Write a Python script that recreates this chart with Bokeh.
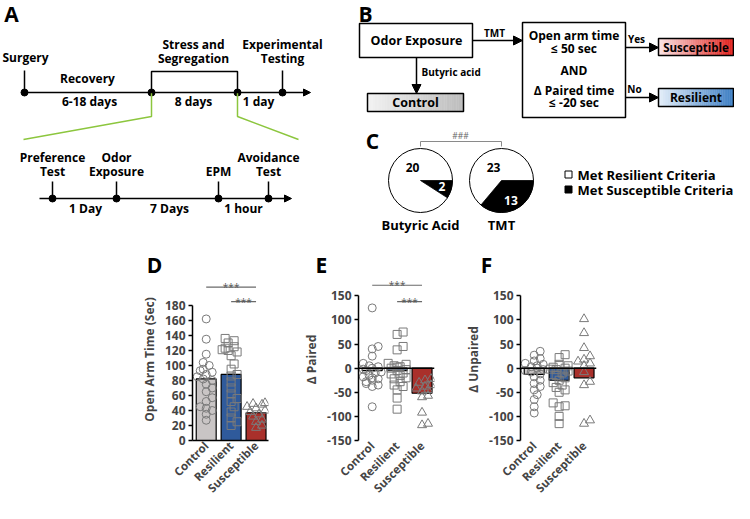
import math
from bokeh.plotting import figure
from bokeh.layouts import column, row
from bokeh.models import Range1d, Arrow, NormalHead, FixedTicker, Span
from bokeh.core.properties import value
from bokeh.embed import file_html
from bokeh.resources import INLINE

FONT = "Open Sans"

# ---------------- data ----------------
groups = ["Control", "Resilient", "Susceptible"]
bar_colors = ["#c9c5c5", "#2f5a9b", "#a9302b"]
markers = ["circle", "square", "triangle"]

open_arm_control = [162, 135, 115, 104, 100, 95, 93, 91, 88, 85, 82, 80, 75, 70, 65, 57, 52, 45, 43, 40, 35, 27]
open_arm_resilient = [136, 133, 130, 125, 123, 121, 120, 118, 113, 102, 95, 88, 86, 78, 70, 62, 56, 52, 45, 38, 30, 25, 20]
open_arm_susceptible = [50, 49, 48, 45, 43, 40, 38, 35, 32, 28, 25, 20, 17]
open_arm_means = [82, 88, 37]

paired_control = [125, 45, 40, 25, 10, 5, 3, 0, -2, -5, -8, -10, -15, -18, -20, -22, -25, -28, -32, -35, -38, -80]
paired_resilient = [75, 70, 45, 38, 10, 8, 5, 3, 2, 0, -3, -5, -10, -12, -15, -20, -22, -28, -35, -38, -45, -62, -85]
paired_susceptible = [-22, -25, -30, -35, -38, -42, -45, -48, -57, -60, -92, -115, -118]
paired_means = [-5, -5, -52]

unpaired_control = [35, 27, 20, 15, 10, 8, 5, 3, 0, -3, -5, -8, -12, -18, -25, -32, -38, -45, -55, -65, -80, -93]
unpaired_resilient = [28, 22, 8, 5, 2, 0, -2, -3, -6, -10, -15, -20, -25, -30, -35, -40, -45, -50, -72, -78, -80, -100, -115]
unpaired_susceptible = [102, 73, 42, 25, 18, 14, 10, 5, -8, -28, -35, -108, -115]
unpaired_means = [-13, -25, -20]

open_arm_ticks = [0, 20, 40, 60, 80, 100, 120, 140, 160, 180]
delta_ticks = [-150, -100, -50, 0, 50, 100, 150]

pie_labels = ["Butyric Acid", "TMT"]
pie_resilient = [20, 23]
pie_susceptible = [2, 13]
legend_labels = ["Met Resilient Criteria", "Met Susceptible Criteria"]

upper_events = [["Surgery"], ["Stress and", "Segregation"], ["Experimental", "Testing"]]
upper_intervals = ["Recovery", "6-18 days", "8 days", "1 day"]
lower_events = [["Preference", "Test"], ["Odor", "Exposure"], ["EPM"], ["Avoidance", "Test"]]
lower_intervals = ["1 Day", "7 Days", "1 hour"]

# ---------------- top canvas (panels A, B, C) ----------------
H = 519
TOP_H = 278
def Y(y):
    return H - y

top = figure(width=734, height=TOP_H, x_range=Range1d(0, 734), y_range=Range1d(H - TOP_H, H),
             min_border=0, x_axis_type=None, y_axis_type=None,
             output_backend="svg", toolbar_location=None)
top.outline_line_color = None


def T(x, y, s, size=12, align="center", color="black", style="bold", baseline="middle"):
    top.text(x=[x], y=[Y(y)], text=[s], text_font=value(FONT), text_font_size=f"{size}px",
             text_font_style=style, text_align=align, text_baseline=baseline, text_color=color)


def L(xs, ys, color="black", w=1.5):
    top.line(x=xs, y=[Y(v) for v in ys], line_color=color, line_width=w)


def ARROW(x0, y0, x1, y1, size=8):
    top.add_layout(Arrow(end=NormalHead(size=size, fill_color="black", line_color="black", line_width=1),
                         x_start=x0, y_start=Y(y0), x_end=x1, y_end=Y(y1),
                         line_width=1.5, line_color="black"))


def grad_box(x0, x1, yt, yb, c0, c1, n=40):
    def hx(c):
        return [int(c[i:i + 2], 16) for i in (1, 3, 5)]
    a, b = hx(c0), hx(c1)
    w = (x1 - x0) / n
    lefts, rights, cols = [], [], []
    for k in range(n):
        t = k / (n - 1)
        col = "#%02x%02x%02x" % tuple(int(round(a[i] + (b[i] - a[i]) * t)) for i in range(3))
        lefts.append(x0 + k * w)
        rights.append(x0 + (k + 1) * w)
        cols.append(col)
    top.quad(left=lefts, right=rights, top=[Y(yt)] * n, bottom=[Y(yb)] * n,
             fill_color=cols, line_color=cols, line_width=0.5)
    top.quad(left=[x0], right=[x1], top=[Y(yt)], bottom=[Y(yb)], fill_color=None,
             line_color="black", line_width=1.5)


# panel letters
T(11, 13, "A", 21)
T(365, 13, "B", 21)
T(372, 140, "C", 21)
T(154, 264, "D", 21)
T(321, 264, "E", 21)
T(486, 264, "F", 21)

# --- Panel A upper timeline
ARROW(23, 92, 310, 92, 7)
L([24, 24], [92, 70])
L([282, 282], [92, 70])
L([151, 151, 237, 237], [92, 71, 71, 92])
top.scatter(x=[24, 151, 237, 282], y=[Y(92)] * 4, size=7, fill_color="black", line_color="black")
L([151, 151, 23], [92, 116, 139], color="#8cc63e")
L([237, 237, 298], [92, 116, 139], color="#8cc63e")

ev_x = [25, 193, 282]
for ex, lines in zip(ev_x, upper_events):
    if len(lines) == 1:
        T(ex, 57, lines[0])
    else:
        T(ex, 44, lines[0])
        T(ex, 58, lines[1])
T(87, 78, upper_intervals[0])
for ix, s in zip([89, 193, 258], upper_intervals[1:]):
    T(ix, 101, s)

# --- Panel A lower timeline
ARROW(39, 198, 291, 198, 7)
low_x = [52, 116, 218, 268]
for lx in low_x:
    L([lx, lx], [198, 181])
top.scatter(x=low_x, y=[Y(198)] * 4, size=7, fill_color="black", line_color="black")
for lx, lines in zip(low_x, lower_events):
    if len(lines) == 1:
        T(lx, 171, lines[0])
    else:
        T(lx, 157, lines[0])
        T(lx, 171, lines[1])
for ix, s in zip([85, 169, 243], lower_intervals):
    T(ix, 208, s)

# --- Panel B flowchart
top.quad(left=[359], right=[472], top=[Y(23)], bottom=[Y(57)], fill_color="white",
         line_color="black", line_width=1.5)
T(416, 40, "Odor Exposure", 12.5)
ARROW(472, 40, 522, 40, 9)
T(494, 32, "TMT", 10)
ARROW(416, 57, 416, 93, 9)
T(421, 71, "Butyric acid", 10, align="left")
grad_box(367, 463, 93, 111, "#f2f2f2", "#bdbdbd")
T(415, 102, "Control", 12.5)

top.quad(left=[522], right=[625], top=[Y(22)], bottom=[Y(117)], fill_color="white",
         line_color="black", line_width=1.5)
for yy, s in zip([35, 48, 70, 90, 102], ["Open arm time", "≤ 50 sec", "AND", "Δ Paired time", "≤ -20 sec"]):
    T(573.5, yy, s, 12)

ARROW(625, 47, 658, 47, 9)
T(636, 38, "Yes", 10)
ARROW(625, 97, 658, 97, 9)
T(634, 88, "No", 10)
grad_box(658, 733, 38, 55, "#fbe3e3", "#e0231f")
T(695.5, 46.5, "Susceptible", 11.5)
grad_box(658, 733, 88, 106, "#e3eef9", "#3f7fc4")
T(695.5, 97, "Resilient", 12)

# --- Panel C pies
pie_cx = [420, 501]
pie_cy = 180
R = 32
L([420, 420, 501, 501], [146, 141, 141, 146], color="#8a8a8a", w=1)
T(460, 135, "###", 8.5, color="#666666", style="normal")
for cx, nres, nsus, lab in zip(pie_cx, pie_resilient, pie_susceptible, pie_labels):
    theta = 2 * math.pi * nsus / (nres + nsus)
    top.wedge(x=[cx], y=[Y(pie_cy)], radius=R, start_angle=-theta, end_angle=0,
              fill_color="black", line_color="black", line_width=0.8)
    top.circle(x=[cx], y=[Y(pie_cy)], radius=R, fill_color=None, line_color="black", line_width=1)
    mid = -theta / 2
    bx = cx + 0.7 * R * math.cos(mid)
    by = pie_cy - 0.7 * R * math.sin(mid)
    T(bx, by, str(nsus), 12, color="white")
    T(cx - 8, pie_cy - 13, str(nres), 12)
    T(cx, 224, lab, 13)

top.scatter(x=[568, 568], y=[Y(174), Y(189)], marker="square", size=7,
            fill_color=["white", "black"], line_color="black", line_width=1)
T(577, 174, legend_labels[0], 13, align="left")
T(577, 189, legend_labels[1], 13, align="left")


# ---------------- bottom panels D, E, F ----------------
BOT_H = 503 - TOP_H   # rows span reference y 278 -> 503
BORDER_B = 57         # frame bottom at y = 446


def swarm_offsets(vals, ppu, ppx=25.0, diam=5.5, step=0.12):
    order = sorted(range(len(vals)), key=lambda i: vals[i])
    cands = [0.0]
    for k in range(1, 4):
        cands += [k * step, -k * step]
    offs = [0.0] * len(vals)
    placed = []
    for i in order:
        yy = vals[i] * ppu
        chosen = None
        for c in cands:
            if all(((c - pc) * ppx) ** 2 + (yy - py) ** 2 >= diam ** 2 for pc, py in placed):
                chosen = c
                break
        if chosen is None:
            chosen = cands[len(placed) % len(cands)]
        offs[i] = chosen
        placed.append((chosen, yy))
    return offs


def make_panel(series, means, y_lo, y_hi, bound, ticks, ylabel, ppu, width, bl, br, sigs,
               show_xline, zero_line):
    p = figure(width=width, height=BOT_H, x_range=Range1d(-0.55, 2.5), y_range=Range1d(y_lo, y_hi),
               min_border_left=bl, min_border_right=br, min_border_top=0, min_border_bottom=BORDER_B,
               output_backend="svg", toolbar_location=None)
    p.grid.visible = False
    p.outline_line_color = None
    p.vbar(x=[0, 1, 2], bottom=0, top=means, width=0.8, fill_color=bar_colors,
           line_color="black", line_width=1.2)
    if zero_line:
        p.add_layout(Span(location=0, dimension="width", line_color="black", line_width=1.6))
    for gi, vals in enumerate(series):
        offs = swarm_offsets(vals, ppu)
        p.scatter(x=[gi + o for o in offs], y=vals, marker=markers[gi],
                  size=9 if markers[gi] == "triangle" else 8,
                  fill_color=None, line_color="#7a7a7a", line_width=1)
    for a, b, yl in sigs:
        p.segment(x0=[a], y0=[yl], x1=[b], y1=[yl], line_color="#6a6a6a", line_width=1.2)
        p.text(x=[(a + b) / 2], y=[yl], text=["***"], text_align="center",
               text_baseline="alphabetic", text_font=value(FONT), text_font_size="10px",
               text_color="#555555")
    ya = p.yaxis[0]
    ya.ticker = FixedTicker(ticks=ticks)
    ya.bounds = bound
    ya.major_label_overrides = {t: str(t) for t in ticks}
    ya.minor_tick_line_color = None
    ya.major_tick_out = 4
    ya.major_tick_in = 0
    ya.axis_line_width = 1.5
    ya.major_tick_line_width = 1.5
    ya.major_label_standoff = 3
    ya.major_label_text_font = FONT
    ya.major_label_text_font_size = "12px"
    ya.major_label_text_font_style = "bold"
    ya.axis_label = ylabel
    ya.axis_label_text_font = FONT
    ya.axis_label_text_font_size = "12px"
    ya.axis_label_text_font_style = "bold"
    ya.axis_label_standoff = 4
    xa = p.xaxis[0]
    xa.ticker = FixedTicker(ticks=[0, 1, 2])
    xa.major_label_overrides = {i: g for i, g in enumerate(groups)}
    xa.major_label_orientation = math.pi / 4
    xa.major_tick_line_color = None
    xa.major_tick_out = 0
    xa.major_tick_in = 0
    xa.minor_tick_line_color = None
    xa.axis_line_color = "black" if show_xline else None
    xa.axis_line_width = 1.5
    xa.major_label_standoff = 3
    xa.major_label_text_font = FONT
    xa.major_label_text_font_size = "11.5px"
    xa.major_label_text_font_style = "bold"
    return p


# frame: reference y 278 (top) .. 446 (bottom)
pD = make_panel([open_arm_control, open_arm_resilient, open_arm_susceptible], open_arm_means,
                0, 215.9, (0, 180), open_arm_ticks, "Open Arm Time (Sec)", 0.778,
                290, 192, 22, [(0, 2, 204.4), (1, 2, 185)], True, False)
pE = make_panel([paired_control, paired_resilient, paired_susceptible], paired_means,
                -150, 186, (-150, 150), delta_ticks, "Δ Paired", 0.5,
                168, 68, 24, [(0, 2, 172), (1, 2, 138)], False, True)
pF = make_panel([unpaired_control, unpaired_resilient, unpaired_susceptible], unpaired_means,
                -150, 186, (-150, 150), delta_ticks, "Δ Unpaired", 0.5,
                276, 62, 138, [], False, True)

layout = column(top, row(pD, pE, pF))
open("out.html", "w").write(file_html(layout, INLINE))
